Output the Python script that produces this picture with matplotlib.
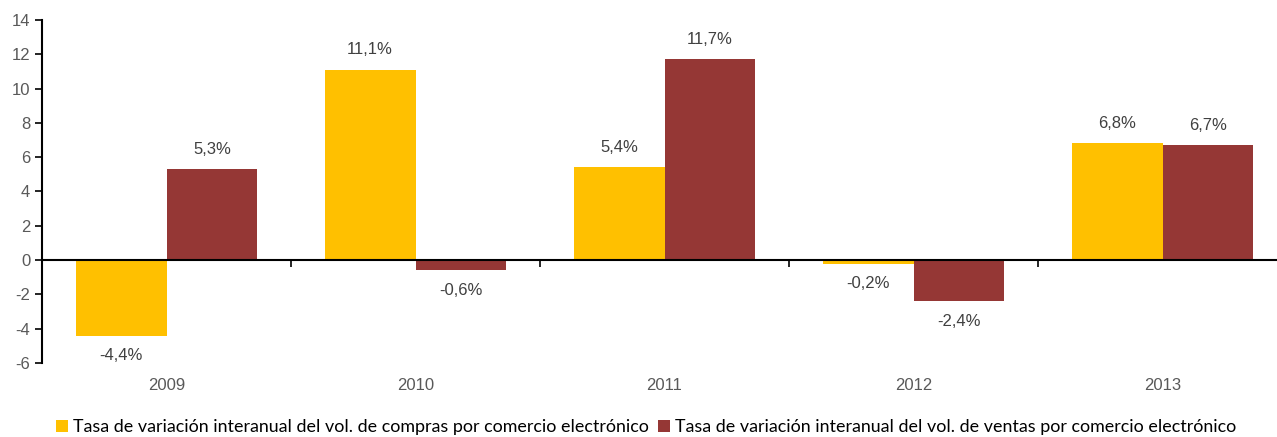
import numpy as np
import matplotlib
matplotlib.use("Agg")
from matplotlib import pyplot as plt
from matplotlib.transforms import blended_transform_factory

plt.rcParams["axes.unicode_minus"] = False

# data
years = ["2009", "2010", "2011", "2012", "2013"]
compras = [-4.4, 11.1, 5.4, -0.2, 6.8]
ventas = [5.3, -0.6, 11.7, -2.4, 6.7]
labels = ["Tasa de variación interanual del vol. de compras por comercio electrónico",
          "Tasa de variación interanual del vol. de ventas por comercio electrónico"]

# style
YELLOW = "#FFC000"
RED = "#953735"
GRAY = "#595959"
BAR_W = 0.365

fig = plt.figure(figsize=(12.77, 4.37), dpi=100)
ax = fig.add_axes([42 / 1277, 74 / 437, 1245 / 1277, 343 / 437])

x = np.arange(len(years))
b1 = ax.bar(x - BAR_W / 2, compras, BAR_W, color=YELLOW, label=labels[0])
b2 = ax.bar(x + BAR_W / 2, ventas, BAR_W, color=RED, label=labels[1])

# data labels
for bars, vals in ((b1, compras), (b2, ventas)):
    for rect, v in zip(bars, vals):
        cx = rect.get_x() + rect.get_width() / 2
        txt = ("%.1f%%" % v).replace(".", ",")
        if v >= 0:
            ax.annotate(txt, (cx, v), xytext=(0, 9), textcoords="offset points",
                        ha="center", va="bottom", fontsize=12, color="#404040",
                        family="Liberation Sans")
        else:
            ax.annotate(txt, (cx, v), xytext=(0, -9), textcoords="offset points",
                        ha="center", va="top", fontsize=12, color="#404040",
                        family="Liberation Sans")

ax.set_xlim(-0.5, 4.5)
ax.set_ylim(-6, 14)
ax.set_yticks(range(-6, 15, 2))
ax.tick_params(axis="y", direction="out", length=5, width=1.2, colors="black",
               labelcolor=GRAY, labelsize=12)
for t in ax.get_yticklabels():
    t.set_family("Liberation Sans")

# x axis on the zero line, ticks at category borders
for s in ("top", "right"):
    ax.spines[s].set_visible(False)
ax.spines["bottom"].set_position(("data", 0))
ax.spines["bottom"].set_linewidth(1.5)
ax.spines["left"].set_linewidth(1.5)
ax.set_xticks(np.arange(-0.5, 5, 1))
ax.tick_params(axis="x", direction="out", length=5, width=1.2, labelbottom=False)

trans = blended_transform_factory(ax.transData, ax.transAxes)
for i, yr in enumerate(years):
    ax.text(i, -0.065, yr, transform=trans, ha="center", va="center",
            fontsize=12, color=GRAY, family="Liberation Sans")

fig.legend(loc="center", bbox_to_anchor=(0.506, 0.022), ncol=2, frameon=False,
           handlelength=0.65, handleheight=0.65, handletextpad=0.3, columnspacing=0.5,
           prop={"family": "Lato", "size": 12.9})

plt.savefig("out.png", dpi=100)
